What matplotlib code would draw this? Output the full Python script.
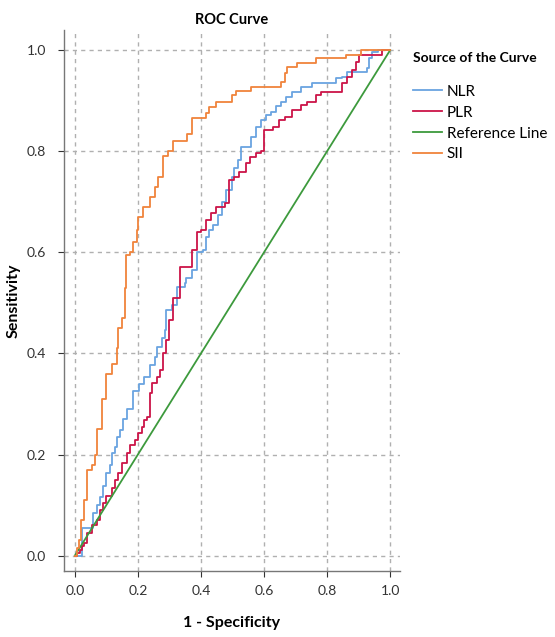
"""ROC curves for NLR, PLR and SII with reference line."""
import matplotlib
matplotlib.use("Agg")
import matplotlib.pyplot as plt

# values (1 - specificity, sensitivity)
sii_fpr = [0, 0.006, 0.012, 0.02, 0.03, 0.04, 0.055, 0.063, 0.07, 0.085, 0.10, 0.117, 0.133, 0.136,
           0.149, 0.158, 0.161, 0.174, 0.184, 0.196, 0.2, 0.215, 0.237, 0.253, 0.263,
           0.28, 0.294, 0.31, 0.34, 0.357, 0.37, 0.40, 0.417, 0.427, 0.449, 0.484,
           0.497, 0.51, 0.56, 0.643, 0.655, 0.665, 0.674, 0.706, 0.766, 0.86, 0.908, 1.0]
sii_tpr = [0, 0.015, 0.03, 0.07, 0.11, 0.17, 0.18, 0.20, 0.25, 0.31, 0.36, 0.38, 0.41, 0.45,
           0.47, 0.53, 0.595, 0.60, 0.62, 0.645, 0.67, 0.69, 0.71, 0.73, 0.75,
           0.79, 0.80, 0.82, 0.82, 0.835, 0.866, 0.866, 0.875, 0.887, 0.897, 0.897,
           0.911, 0.92, 0.927, 0.927, 0.937, 0.954, 0.966, 0.974, 0.984, 0.99, 1.0, 1.0]

nlr_fpr = [0, 0.02, 0.022, 0.047, 0.057, 0.07, 0.08, 0.09, 0.10, 0.11, 0.117, 0.127,
           0.133, 0.143, 0.153, 0.165, 0.184, 0.205, 0.22, 0.237, 0.253, 0.26, 0.275,
           0.285, 0.29, 0.307, 0.323, 0.348, 0.354, 0.37, 0.386, 0.405, 0.417, 0.427,
           0.437, 0.453, 0.468, 0.48, 0.497, 0.506, 0.516, 0.528, 0.544, 0.56, 0.576,
           0.59, 0.607, 0.623, 0.639, 0.655, 0.671, 0.69, 0.718, 0.753, 0.807, 0.829,
           0.848, 0.864, 0.911, 0.927, 0.933, 0.943, 0.96, 1.0]
nlr_tpr = [0, 0, 0.055, 0.055, 0.085, 0.10, 0.115, 0.137, 0.163, 0.18, 0.203, 0.215,
           0.235, 0.249, 0.27, 0.29, 0.325, 0.34, 0.354, 0.377, 0.393, 0.413, 0.43,
           0.447, 0.486, 0.496, 0.532, 0.54, 0.55, 0.565, 0.60, 0.605, 0.63, 0.644,
           0.654, 0.674, 0.70, 0.723, 0.749, 0.767, 0.783, 0.808, 0.808, 0.828, 0.848,
           0.862, 0.871, 0.877, 0.89, 0.897, 0.907, 0.917, 0.927, 0.935, 0.935, 0.945,
           0.947, 0.957, 0.957, 0.964, 0.984, 0.996, 1.0, 1.0]

plr_fpr = [0, 0.008, 0.015, 0.022, 0.03, 0.04, 0.053, 0.07, 0.08, 0.09, 0.10, 0.117, 0.127, 0.136,
           0.149, 0.165, 0.174, 0.19, 0.2, 0.212, 0.22, 0.228, 0.237, 0.244, 0.26,
           0.269, 0.278, 0.29, 0.30, 0.31, 0.326, 0.332, 0.37, 0.373, 0.386, 0.40,
           0.417, 0.433, 0.449, 0.475, 0.49, 0.506, 0.522, 0.544, 0.554, 0.576, 0.59,
           0.60, 0.627, 0.649, 0.665, 0.69, 0.718, 0.737, 0.766, 0.78, 0.845, 0.848,
           0.864, 0.88, 0.892, 0.90, 0.965, 0.975, 1.0]
plr_tpr = [0, 0.005, 0.012, 0.018, 0.025, 0.045, 0.06, 0.07, 0.09, 0.105, 0.117, 0.134, 0.15, 0.163,
           0.183, 0.203, 0.219, 0.229, 0.243, 0.255, 0.269, 0.275, 0.322, 0.342, 0.354,
           0.367, 0.40, 0.427, 0.466, 0.51, 0.51, 0.571, 0.571, 0.605, 0.64, 0.644,
           0.664, 0.678, 0.69, 0.697, 0.743, 0.749, 0.759, 0.777, 0.789, 0.796, 0.80,
           0.842, 0.848, 0.862, 0.868, 0.881, 0.891, 0.897, 0.911, 0.917, 0.917, 0.935,
           0.947, 0.96, 0.976, 0.99, 0.99, 1.0, 1.0]

ref_x = [0, 1]
ref_y = [0, 1]

ticks = [0.0, 0.2, 0.4, 0.6, 0.8, 1.0]

plt.rcParams["font.family"] = ["Lato", "DejaVu Sans"]

fig = plt.figure(figsize=(5.55, 6.37), dpi=100)
ax = fig.add_axes([0.115, 0.104, 0.605, 0.849])

ax.plot(nlr_fpr, nlr_tpr, drawstyle="steps-post", color="#6aa4e0", lw=1.3, label="NLR")
ax.plot(plr_fpr, plr_tpr, drawstyle="steps-post", color="#cc1448", lw=1.3, label="PLR")
ax.plot(ref_x, ref_y, color="#3d9a3d", lw=1.3, label="Reference Line")
ax.plot(sii_fpr, sii_tpr, drawstyle="steps-post", color="#f0843c", lw=1.3, label="SII")

ax.set_xlim(-0.035, 1.03)
ax.set_ylim(-0.03, 1.04)
ax.set_xticks(ticks)
ax.set_yticks(ticks)
ax.set_xticklabels([f"{t:.1f}" for t in ticks])
ax.set_yticklabels([f"{t:.1f}" for t in ticks])
ax.tick_params(labelsize=10, colors="#333333", length=4, width=0.8)
ax.tick_params(axis="x", pad=6)
ax.tick_params(axis="y", pad=9)
ax.grid(True, color="#b0b0b0", ls=(0, (3, 3)), lw=1.0)
ax.set_axisbelow(True)
for side in ("top", "right"):
    ax.spines[side].set_visible(False)
for side in ("left", "bottom"):
    ax.spines[side].set_color("#777777")
    ax.spines[side].set_linewidth(1.0)

ax.set_xlabel("1 - Specificity", fontsize=11.5, fontweight="bold", labelpad=14)
ax.set_ylabel("Sensitivity", fontsize=11.5, fontweight="bold", labelpad=4)
ax.set_title("ROC Curve", fontsize=10.5, fontweight="bold", pad=4)

leg = fig.legend(loc="upper left", bbox_to_anchor=(0.72, 0.94), frameon=False,
                 title="Source of the Curve\n", fontsize=11,
                 title_fontproperties={"weight": "bold", "size": 10},
                 handlelength=1.9, handletextpad=0.3, labelspacing=0.45,
                 alignment="left")

fig.savefig("out.png", dpi=100)
